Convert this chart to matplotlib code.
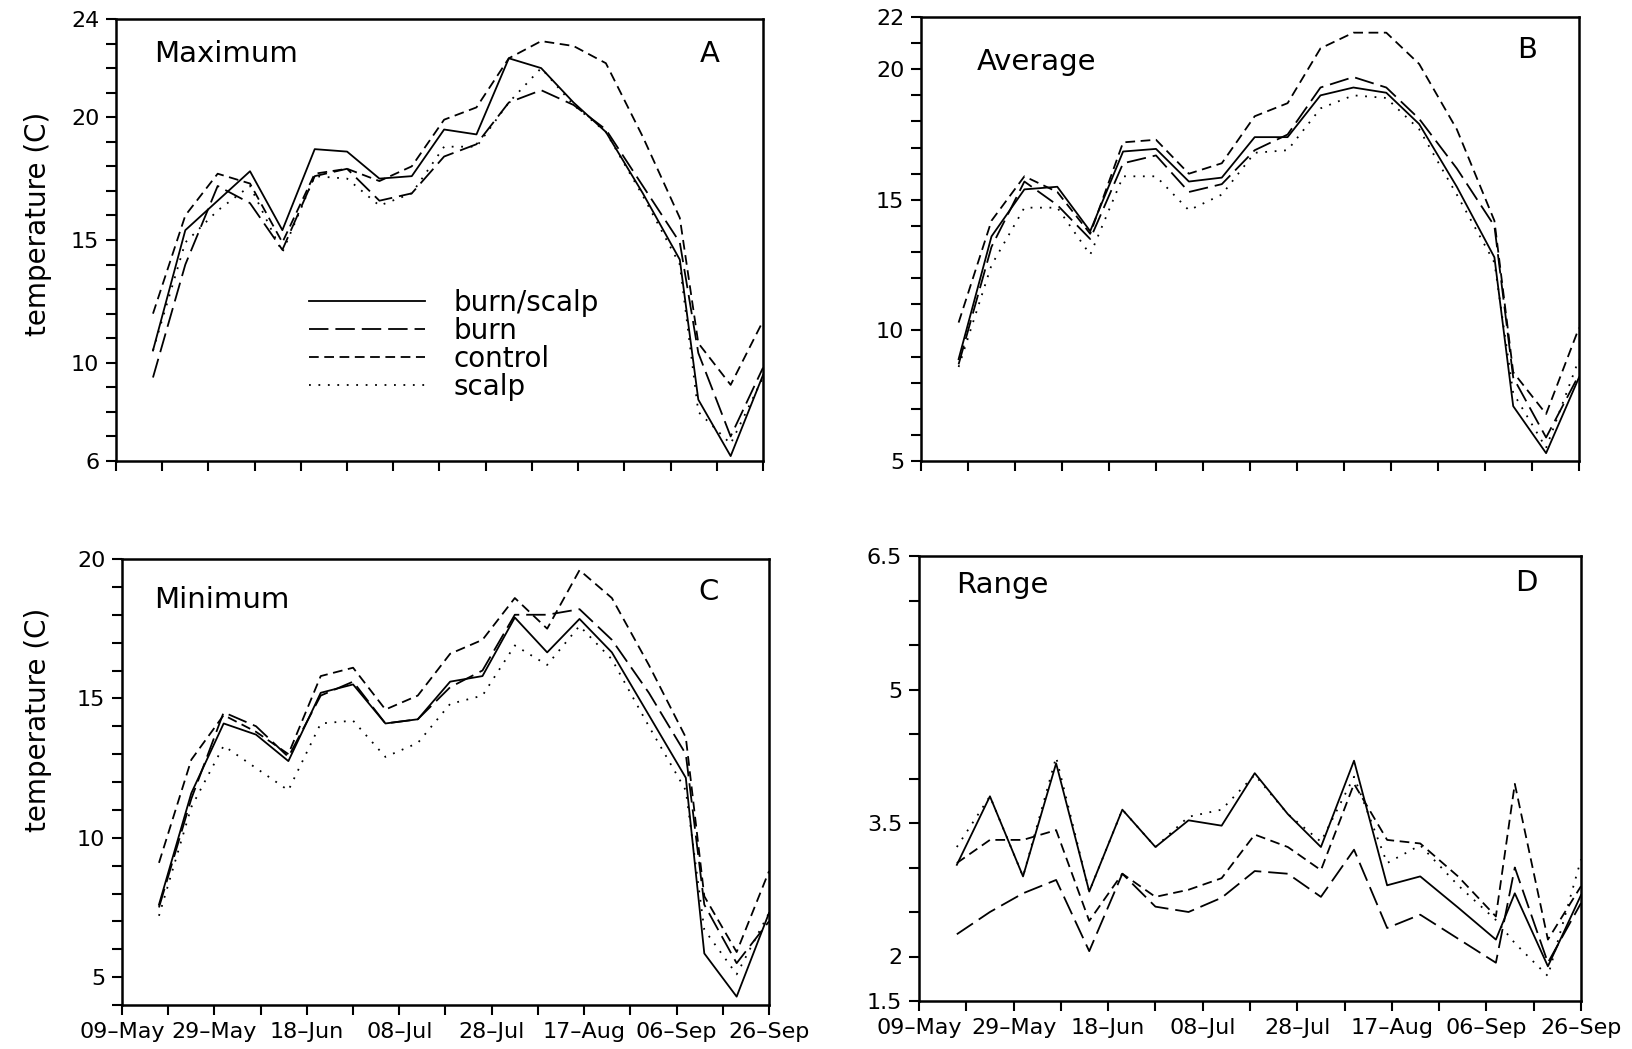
import matplotlib.pyplot as plt
import pandas as pd

plt.rcParams["font.family"] = "DejaVu Sans"
plt.rcParams["lines.scale_dashes"] = False

# weekly sampling dates over the season
dates = pd.to_datetime([
    "1991-05-17", "1991-05-24", "1991-05-31", "1991-06-07", "1991-06-14",
    "1991-06-21", "1991-06-28", "1991-07-05", "1991-07-12", "1991-07-19",
    "1991-07-26", "1991-08-02", "1991-08-09", "1991-08-16", "1991-08-23",
    "1991-08-31", "1991-09-08", "1991-09-12", "1991-09-19", "1991-09-26",
])

# Maximum temperature (C)
max_burn_scalp = [10.5, 15.4, 16.6, 17.8, 15.4, 18.7, 18.6, 17.5, 17.6, 19.5,
                  19.3, 22.4, 22.0, 20.6, 19.4, 16.9, 14.2, 8.5, 6.2, 9.5]
max_burn = [9.4, 14.0, 17.2, 16.5, 14.6, 17.6, 17.9, 16.6, 16.9, 18.4,
            18.9, 20.6, 21.1, 20.5, 19.5, 17.2, 14.9, 10.4, 7.0, 9.8]
max_control = [12.0, 16.0, 17.7, 17.3, 14.9, 17.7, 17.9, 17.4, 18.0, 19.9,
               20.4, 22.4, 23.1, 22.9, 22.2, 19.2, 15.9, 10.8, 9.1, 11.7]
max_scalp = [10.5, 14.9, 16.2, 17.2, 14.5, 17.6, 17.5, 16.4, 16.9, 18.8,
             18.8, 20.6, 22.0, 20.5, 19.4, 16.8, 14.0, 8.0, 6.7, 9.4]

# Average temperature (C)
avg_burn_scalp = [8.9, 13.6, 15.4, 15.5, 13.8, 16.85, 16.95, 15.7, 15.85, 17.4,
                  17.4, 19.0, 19.3, 19.1, 17.9, 15.5, 12.8, 7.1, 5.3, 8.2]
avg_burn = [8.7, 13.2, 15.7, 14.8, 13.5, 16.4, 16.7, 15.3, 15.6, 16.9,
            17.5, 19.3, 19.7, 19.3, 18.1, 16.2, 14.0, 8.2, 5.9, 8.3]
avg_control = [10.3, 14.2, 15.9, 15.3, 13.7, 17.2, 17.3, 16.0, 16.4, 18.2,
               18.7, 20.8, 21.4, 21.4, 20.2, 17.7, 14.2, 8.4, 6.8, 10.1]
avg_scalp = [8.6, 12.5, 14.7, 14.7, 12.9, 15.9, 15.9, 14.6, 15.2, 16.8,
             16.9, 18.5, 19.0, 18.9, 17.7, 15.2, 12.6, 7.6, 5.5, 8.9]

# Minimum temperature (C)
min_burn_scalp = [7.6, 11.6, 14.1, 13.7, 12.75, 15.2, 15.5, 14.1, 14.25, 15.6,
                  15.8, 17.9, 16.65, 17.85, 16.65, 14.4, 12.15, 5.85, 4.3, 7.3]
min_burn = [7.5, 11.4, 14.5, 14.0, 12.9, 15.1, 15.6, 14.1, 14.25, 15.4,
            16.0, 18.0, 18.0, 18.2, 17.1, 15.2, 13.0, 7.6, 5.5, 7.0]
min_control = [9.1, 12.8, 14.4, 13.8, 13.0, 15.8, 16.1, 14.6, 15.1, 16.6,
               17.1, 18.6, 17.5, 19.6, 18.6, 16.2, 13.6, 7.9, 5.9, 8.8]
min_scalp = [7.2, 11.1, 13.3, 12.5, 11.7, 14.1, 14.2, 12.9, 13.4, 14.8,
             15.1, 16.9, 16.2, 17.6, 16.4, 14.0, 11.7, 6.7, 5.1, 7.3]

# Daily range (C)
rng_burn_scalp = [3.03, 3.8, 2.9, 4.17, 2.73, 3.65, 3.23, 3.53, 3.47, 4.06,
                  3.6, 3.23, 4.2, 2.8, 2.9, 2.55, 2.19, 2.71, 1.89, 2.69]
rng_burn = [2.25, 2.5, 2.71, 2.86, 2.06, 2.93, 2.56, 2.5, 2.66, 2.96,
            2.93, 2.67, 3.2, 2.32, 2.47, 2.2, 1.93, 3.0, 1.93, 2.6]
rng_control = [3.05, 3.31, 3.31, 3.42, 2.4, 2.93, 2.67, 2.75, 2.88, 3.37,
               3.23, 2.97, 3.94, 3.31, 3.27, 2.9, 2.45, 3.94, 2.19, 2.79]
rng_scalp = [3.23, 3.8, 2.9, 4.24, 2.73, 3.65, 3.23, 3.57, 3.65, 4.04,
             3.6, 3.29, 4.02, 3.05, 3.25, 2.8, 2.41, 2.15, 1.78, 3.09]

labels = ["burn/scalp", "burn", "control", "scalp"]
styles = ["-", (0, (14, 5)), (0, (7, 4)), (0, (1.3, 5.5))]

major_dates = pd.date_range("1991-05-09", "1991-09-26", freq="20D")
minor_dates = pd.date_range("1991-05-09", "1991-09-26", freq="10D")


def draw_panel(ax, series, name, letter, ylim, yticks, ystep, name_pos, letter_pos, show_dates):
    for values, label, ls in zip(series, labels, styles):
        ax.plot(dates, values, color="black", linestyle=ls, linewidth=1.3, label=label)

    ax.set_xlim(major_dates[0], major_dates[-1])
    ax.set_ylim(*ylim)
    ax.set_xticks(major_dates)
    ax.set_xticks(minor_dates, minor=True)
    if show_dates:
        ax.set_xticklabels([d.strftime("%d\u2013%b") for d in major_dates])
    else:
        ax.set_xticklabels([])

    ax.set_yticks(yticks)
    ax.set_yticklabels([f"{t:g}" for t in yticks])
    n = int(round((ylim[1] - ylim[0]) / ystep))
    ax.set_yticks([ylim[0] + i * ystep for i in range(n + 1)], minor=True)

    ax.tick_params(which="both", direction="out", length=7, width=1.5, labelsize=16, pad=5)
    for s in ax.spines.values():
        s.set_linewidth(1.8)

    ax.text(name_pos[0], name_pos[1], name, transform=ax.transAxes,
            fontsize=21, ha="left", va="center")
    ax.text(letter_pos[0], letter_pos[1], letter, transform=ax.transAxes,
            fontsize=21, ha="center", va="center")


fig = plt.figure(figsize=(16.33, 10.49), dpi=100)
W, H = 1633, 1049

ax_a = fig.add_axes([116 / W, 1 - 461 / H, 647 / W, 442 / H])
ax_b = fig.add_axes([921 / W, 1 - 461 / H, 658 / W, 444 / H])
ax_c = fig.add_axes([122 / W, 1 - 1005 / H, 647 / W, 446 / H])
ax_d = fig.add_axes([919 / W, 1 - 1001 / H, 662 / W, 445 / H])

draw_panel(ax_a, [max_burn_scalp, max_burn, max_control, max_scalp],
           "Maximum", "A", (6, 24), [6, 10, 15, 20, 24], 1,
           (0.059, 0.921), (0.918, 0.921), False)
draw_panel(ax_b, [avg_burn_scalp, avg_burn, avg_control, avg_scalp],
           "Average", "B", (5, 22), [5, 10, 15, 20, 22], 1,
           (0.084, 0.899), (0.921, 0.926), False)
draw_panel(ax_c, [min_burn_scalp, min_burn, min_control, min_scalp],
           "Minimum", "C", (4, 20), [5, 10, 15, 20], 1,
           (0.05, 0.908), (0.906, 0.926), True)
draw_panel(ax_d, [rng_burn_scalp, rng_burn, rng_control, rng_scalp],
           "Range", "D", (1.5, 6.5), [1.5, 2, 3.5, 5, 6.5], 0.5,
           (0.056, 0.935), (0.917, 0.94), True)

ax_a.legend(loc="upper left", bbox_to_anchor=(0.298, 0.39), frameon=False,
            fontsize=20, handlelength=4.2, handletextpad=1.0, labelspacing=0.0,
            borderpad=0, borderaxespad=0)

fig.text(38 / W, 1 - 224 / H, "temperature (C)", rotation=90, fontsize=20,
         ha="center", va="center")
fig.text(38 / W, 1 - 720 / H, "temperature (C)", rotation=90, fontsize=20,
         ha="center", va="center")

fig.savefig("out.png", dpi=100)
